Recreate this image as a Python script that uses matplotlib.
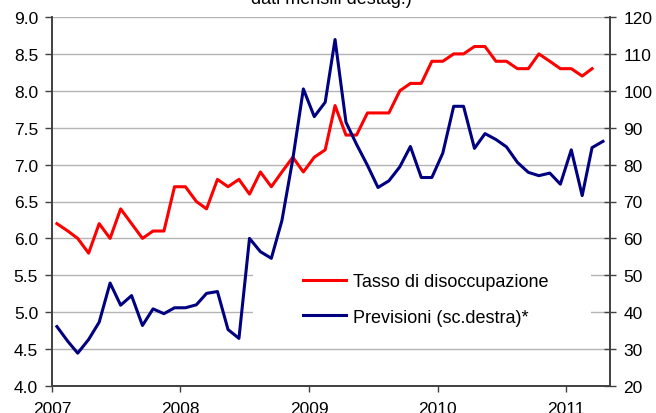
import numpy as np
import pandas as pd
import matplotlib
matplotlib.use("Agg")
import matplotlib.pyplot as plt
from matplotlib.patches import Rectangle

plt.rcParams['font.family'] = ['Liberation Sans', 'DejaVu Sans']

# monthly data, Jan 2007 onward
tasso = [6.2, 6.1, 6.0, 5.8, 6.2, 6.0, 6.4, 6.2, 6.0, 6.1, 6.1, 6.7,
         6.7, 6.5, 6.4, 6.8, 6.7, 6.8, 6.6, 6.9, 6.7, 6.9, 7.1, 6.9,
         7.1, 7.2, 7.8, 7.4, 7.4, 7.7, 7.7, 7.7, 8.0, 8.1, 8.1, 8.4,
         8.4, 8.5, 8.5, 8.6, 8.6, 8.4, 8.4, 8.3, 8.3, 8.5, 8.4, 8.3,
         8.3, 8.2, 8.3]
previsioni = [36.1, 32.1, 28.9, 32.6, 37.3, 47.9, 41.9, 44.5, 36.4, 40.9, 39.6, 41.2,
              41.2, 42.0, 45.1, 45.6, 35.3, 32.9, 60.0, 56.4, 54.6, 64.8, 81.5, 100.5,
              93.0, 96.9, 113.9, 91.5, 85.5, 79.8, 73.8, 75.6, 79.4, 84.9, 76.5, 76.5,
              83.1, 95.8, 95.8, 84.4, 88.4, 86.8, 84.8, 80.6, 77.9, 77.0, 77.7, 74.7,
              84.0, 71.6, 84.6, 86.3]
years = ['2007', '2008', '2009', '2010', '2011']

mesi = pd.date_range('2007-01-01', periods=len(previsioni), freq='MS') + pd.Timedelta(days=14)

fig = plt.figure(figsize=(6.56, 4.14), dpi=100)
ax = fig.add_axes([52/656, 1 - 387/414, 558/656, 369/414])
ax2 = ax.twinx()

ax.plot(mesi[:len(tasso)], tasso, color='#ff0000', lw=2.2, label='Tasso di disoccupazione', zorder=3)
ax2.plot(mesi, previsioni, color='#000080', lw=2.2, label='Previsioni (sc.destra)*', zorder=3)

ax.set_ylim(4.0, 9.0)
ax.set_yticks(np.arange(4.0, 9.01, 0.5))
ax.yaxis.set_major_formatter(matplotlib.ticker.FormatStrFormatter('%.1f'))
ax2.set_ylim(20, 120)
ax2.set_yticks(np.arange(20, 121, 10))

ax.set_xlim(pd.Timestamp('2007-01-01'), pd.Timestamp('2011-05-05'))
ax.set_xticks([pd.Timestamp(y + '-01-01') for y in years])
ax.set_xticklabels(years)

ax.set_axisbelow(True)
ax.yaxis.grid(True, color='#b4b4b4', lw=1)
# white box behind the legend hides the grid there
ax.add_patch(Rectangle((0.36, 0.127), 0.606, 0.217, transform=ax.transAxes,
                       facecolor='white', edgecolor='none', zorder=1))

for a in (ax, ax2):
    a.spines['top'].set_visible(False)
    for s in ('left', 'right', 'bottom'):
        a.spines[s].set_color('#404040')
        a.spines[s].set_linewidth(1.2)

ax.tick_params(axis='y', direction='out', length=5, width=1, colors='#404040',
               labelcolor='black', labelsize=12.5, pad=5)
ax.tick_params(axis='x', direction='out', length=4, width=1, colors='#404040',
               labelcolor='black', labelsize=12.5, pad=6.5)
ax2.tick_params(axis='y', direction='inout', length=9, width=1, colors='#404040',
                labelcolor='black', labelsize=12.5, pad=5)

h1, l1 = ax.get_legend_handles_labels()
h2, l2 = ax2.get_legend_handles_labels()
ax2.legend(h1 + h2, l1 + l2, loc='upper left', bbox_to_anchor=(0.45, 0.305),
           frameon=False, fontsize=13, handlelength=2.4, handletextpad=0.35,
           labelspacing=1.0, borderpad=0, borderaxespad=0)

fig.text(331/656, 1 - 4/414, 'dati mensili destag.)', ha='center', va='baseline', fontsize=13)

fig.savefig('out.png', dpi=100)
